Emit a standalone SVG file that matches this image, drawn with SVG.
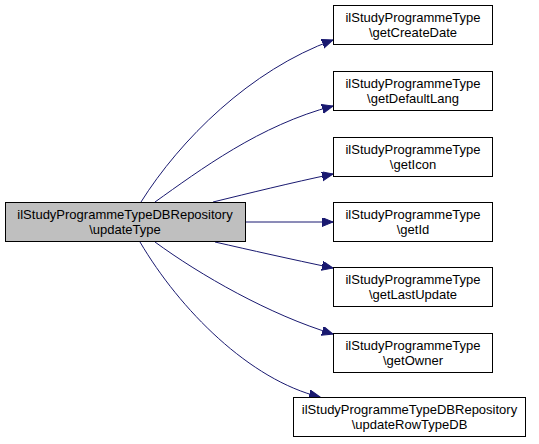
<svg xmlns="http://www.w3.org/2000/svg" width="539" height="444" viewBox="0 0 539 444">
<style>
  .node rect { fill: #ffffff; stroke: #000000; stroke-width: 1; }
  .node.main rect { fill: #bfbfbf; }
  .node text { font-family: "Liberation Sans", Arial, sans-serif; font-size: 13px; fill: #000000; text-anchor: middle; }
  .edge { fill: none; stroke: #191970; stroke-width: 1; marker-end: url(#arrow); }
</style>
<defs>
  <marker id="arrow" markerUnits="userSpaceOnUse" markerWidth="12" markerHeight="10" refX="11" refY="4.5" orient="auto">
    <polygon points="0,0 11,4.5 0,9" fill="#191970" stroke="#191970" stroke-width="1"/>
  </marker>
</defs>
<rect width="539" height="444" fill="#ffffff"/>
<g id="connectors">
  <path class="edge" d="M141,202 C180,140 250,70 333,40"/>
  <path class="edge" d="M155,202 C200,170 260,125 333,106"/>
  <path class="edge" d="M213,202 C250,193 290,183 333,174"/>
  <path class="edge" d="M245,222 L333,222"/>
  <path class="edge" d="M215,242 C250,250 290,259 333,268"/>
  <path class="edge" d="M155,242 C200,275 270,315 333,334"/>
  <path class="edge" d="M140,242 C180,310 250,380 320,397"/>
</g>
<g id="node-updateType" class="node main">
  <rect x="5.5" y="202.5" width="240" height="39"/>
  <text x="125" y="219">ilStudyProgrammeTypeDBRepository</text>
  <text x="125" y="234">\updateType</text>
</g>
<g id="node-getCreateDate" class="node">
  <rect x="333.5" y="5.5" width="159" height="39"/>
  <text x="413" y="22">ilStudyProgrammeType</text>
  <text x="413" y="37">\getCreateDate</text>
</g>
<g id="node-getDefaultLang" class="node">
  <rect x="333.5" y="71.5" width="159" height="39"/>
  <text x="413" y="88">ilStudyProgrammeType</text>
  <text x="413" y="103">\getDefaultLang</text>
</g>
<g id="node-getIcon" class="node">
  <rect x="333.5" y="137.5" width="159" height="39"/>
  <text x="413" y="154">ilStudyProgrammeType</text>
  <text x="413" y="169">\getIcon</text>
</g>
<g id="node-getId" class="node">
  <rect x="333.5" y="202.5" width="159" height="39"/>
  <text x="413" y="219">ilStudyProgrammeType</text>
  <text x="413" y="234">\getId</text>
</g>
<g id="node-getLastUpdate" class="node">
  <rect x="333.5" y="267.5" width="159" height="39"/>
  <text x="413" y="284">ilStudyProgrammeType</text>
  <text x="413" y="299">\getLastUpdate</text>
</g>
<g id="node-getOwner" class="node">
  <rect x="333.5" y="333.5" width="159" height="39"/>
  <text x="413" y="350">ilStudyProgrammeType</text>
  <text x="413" y="365">\getOwner</text>
</g>
<g id="node-updateRowTypeDB" class="node">
  <rect x="293.5" y="397.5" width="232" height="39"/>
  <text x="409.5" y="414">ilStudyProgrammeTypeDBRepository</text>
  <text x="409.5" y="429">\updateRowTypeDB</text>
</g>
</svg>
